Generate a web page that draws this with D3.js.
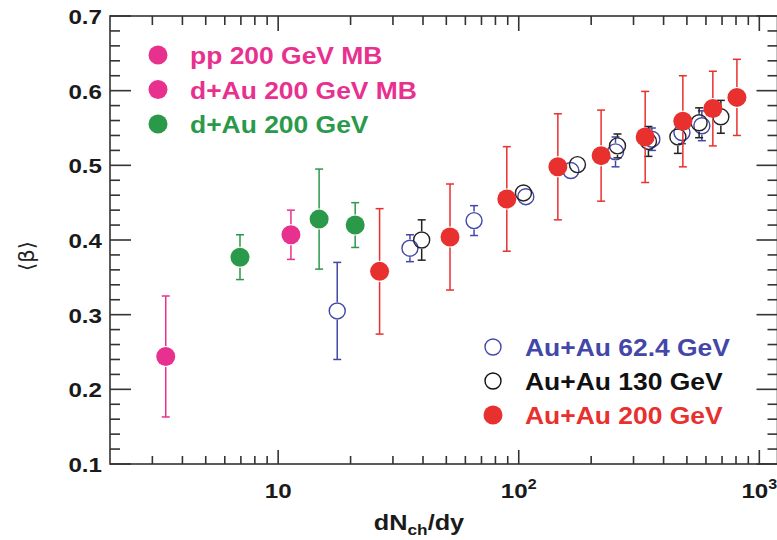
<!DOCTYPE html>
<html>
<head>
<meta charset="utf-8">
<script src="https://cdn.jsdelivr.net/npm/d3@7/dist/d3.min.js"></script>
<style>
  html, body { margin: 0; padding: 0; background: #fff; }
  svg { display: block; }
  text { font-family: "Liberation Sans", Arial, Helvetica, sans-serif; }
</style>
</head>
<body>
<div id="chart"></div>
<script>
// dN_ch/dy vs <beta>
const ppX = [3.41];
const ppY = [0.244];
const ppErr = [0.081];

const dAuMBX = [11.3];
const dAuMBY = [0.407];
const dAuMBErr = [0.033];

const dAuX = [6.94, 14.8, 20.9];
const dAuY = [0.377, 0.428, 0.420];
const dAuErr = [0.030, 0.067, 0.030];

const au62X = [17.6, 35.3, 65.2, 107, 164.7, 252.5, 357.6, 476.8, 577];
const au62Y = [0.305, 0.389, 0.426, 0.458, 0.493, 0.518, 0.535, 0.544, 0.553];
const au62Err = [0.065, 0.018, 0.020, 0.012, 0.012, 0.020, 0.015, 0.015, 0.020];

const au130X = [39.5, 104.6, 175.4, 257.3, 346, 458.6, 562, 692];
const au130Y = [0.400, 0.463, 0.501, 0.526, 0.532, 0.538, 0.557, 0.565];
const au130Err = [0.027, 0.012, 0.012, 0.016, 0.020, 0.022, 0.020, 0.022];

const au200X = [26.4, 51.8, 89.2, 145.4, 220, 335.4, 481, 641, 807];
const au200Y = [0.358, 0.404, 0.455, 0.498, 0.513, 0.538, 0.559, 0.576, 0.591];
const au200Err = [0.084, 0.071, 0.070, 0.071, 0.061, 0.061, 0.061, 0.050, 0.051];

const yTicks = [0.1, 0.2, 0.3, 0.4, 0.5, 0.6, 0.7];
const xTickLabels = [['10', ''], ['10', '2'], ['10', '3']];

const width = 777, height = 540;
const frame = { left: 110, top: 16, right: 777.5, bottom: 464 };
const stretch = 1.15; // original figure is a bit wide

const svg = d3.select('#chart').append('svg')
  .attr('width', width)
  .attr('height', height);

const x = d3.scaleLog().domain([2, 1190]).range([frame.left, frame.right]);
const y = d3.scaleLinear().domain([0.1, 0.7]).range([frame.bottom, frame.top]);

const axisColor = '#333';

// Put stretched text at (px, py)
function stretchedText(g, px, py) {
  return g.append('text')
    .attr('transform', `translate(${px},${py}) scale(${stretch},1)`);
}

// frame
svg.append('rect')
  .attr('x', frame.left)
  .attr('y', frame.top)
  .attr('width', frame.right - frame.left)
  .attr('height', frame.bottom - frame.top)
  .attr('fill', 'none')
  .attr('stroke', axisColor)
  .attr('stroke-width', 1.6);

// x ticks (log, major at decades)
const xMinor = [];
[1, 10, 100].forEach(dec => {
  for (let k = 2; k <= 9; k++) {
    const v = dec * k;
    if (v > 2 && v < 1190) xMinor.push(v);
  }
});
const xMajor = [10, 100, 1000];

const ticks = svg.append('g').attr('stroke', axisColor).attr('stroke-width', 1.6);

xMinor.forEach(v => {
  ticks.append('line').attr('x1', x(v)).attr('x2', x(v)).attr('y1', frame.bottom).attr('y2', frame.bottom - 8);
  ticks.append('line').attr('x1', x(v)).attr('x2', x(v)).attr('y1', frame.top).attr('y2', frame.top + 9);
});
xMajor.forEach(v => {
  ticks.append('line').attr('x1', x(v)).attr('x2', x(v)).attr('y1', frame.bottom).attr('y2', frame.bottom - 14);
  ticks.append('line').attr('x1', x(v)).attr('x2', x(v)).attr('y1', frame.top).attr('y2', frame.top + 15);
});

// y ticks, minor every 0.02
const yMinor = d3.range(0.12, 0.7, 0.02).filter(v => Math.abs(v * 10 - Math.round(v * 10)) > 0.01);
yMinor.forEach(v => {
  ticks.append('line').attr('x1', frame.left).attr('x2', frame.left + 10).attr('y1', y(v)).attr('y2', y(v));
  ticks.append('line').attr('x1', frame.right).attr('x2', frame.right - 10).attr('y1', y(v)).attr('y2', y(v));
});
yTicks.forEach(v => {
  ticks.append('line').attr('x1', frame.left).attr('x2', frame.left + 21).attr('y1', y(v)).attr('y2', y(v));
  ticks.append('line').attr('x1', frame.right).attr('x2', frame.right - 21).attr('y1', y(v)).attr('y2', y(v));
});

// tick labels
const labels = svg.append('g')
  .attr('fill', '#1a1a1a')
  .style('font-weight', 'bold')
  .style('font-size', '21px');

yTicks.forEach(v => {
  stretchedText(labels, 102, y(v) + 8)
    .attr('text-anchor', 'end')
    .text(v.toFixed(1));
});

xMajor.forEach((v, i) => {
  const t = stretchedText(labels, x(v), 498).attr('text-anchor', 'middle');
  t.append('tspan').text(xTickLabels[i][0]);
  if (xTickLabels[i][1]) {
    t.append('tspan')
      .attr('dy', -9)
      .style('font-size', '14px')
      .text(xTickLabels[i][1]);
  }
});

// axis titles
const xTitle = stretchedText(svg, 419, 530)
  .attr('text-anchor', 'middle')
  .attr('fill', '#1a1a1a')
  .style('font-weight', 'bold')
  .style('font-size', '22px');
xTitle.append('tspan').text('dN');
xTitle.append('tspan').attr('dy', 5).style('font-size', '15px').text('ch');
xTitle.append('tspan').attr('dy', -5).text('/dy');

svg.append('text')
  .attr('transform', 'translate(34,256) rotate(-90)')
  .attr('text-anchor', 'middle')
  .attr('fill', '#222')
  .style('font-family', '"DejaVu Sans", sans-serif')
  .style('font-size', '21px')
  .text('⟨β⟩');

// series
const pink = '#e8318f';
const green = '#2a9a4a';
const blue = '#4347a8';
const black = '#222';
const red = '#e8302e';

const series = [
  { xs: au62X, ys: au62Y, errs: au62Err, color: blue, open: true },
  { xs: au130X, ys: au130Y, errs: au130Err, color: black, open: true },
  { xs: ppX, ys: ppY, errs: ppErr, color: pink, open: false },
  { xs: dAuMBX, ys: dAuMBY, errs: dAuMBErr, color: pink, open: false },
  { xs: dAuX, ys: dAuY, errs: dAuErr, color: green, open: false },
  { xs: au200X, ys: au200Y, errs: au200Err, color: red, open: false }
];

const rOpen = 8, rFilled = 9.5, cap = 4;

series.forEach(s => {
  const pts = s.xs.map((v, i) => ({ x: v, y: s.ys[i], e: s.errs[i] }));
  const r = s.open ? rOpen : rFilled;
  const g = svg.append('g');

  // error bars, kept outside the marker
  pts.forEach(d => {
    const cx = x(d.x), cy = y(d.y);
    const yTop = y(d.y + d.e), yBot = y(d.y - d.e);
    const eg = g.append('g').attr('stroke', s.color).attr('stroke-width', 1.5);
    if (cy - r - 1 > yTop) {
      eg.append('line').attr('x1', cx).attr('x2', cx).attr('y1', yTop).attr('y2', cy - r - 1);
      eg.append('line').attr('x1', cx - cap).attr('x2', cx + cap).attr('y1', yTop).attr('y2', yTop);
    }
    if (yBot > cy + r + 1) {
      eg.append('line').attr('x1', cx).attr('x2', cx).attr('y1', cy + r + 1).attr('y2', yBot);
      eg.append('line').attr('x1', cx - cap).attr('x2', cx + cap).attr('y1', yBot).attr('y2', yBot);
    }
  });

  g.selectAll('circle.pt')
    .data(pts)
    .enter()
    .append('circle')
    .attr('class', 'pt')
    .attr('cx', d => x(d.x))
    .attr('cy', d => y(d.y))
    .attr('r', s.open ? rOpen : rFilled)
    .attr('fill', s.open ? 'none' : s.color)
    .attr('stroke', s.color)
    .attr('stroke-width', s.open ? 1.4 : 0);
});

// legends
const legendTop = [
  { label: 'pp 200 GeV MB', color: pink, open: false },
  { label: 'd+Au 200 GeV MB', color: pink, open: false },
  { label: 'd+Au 200 GeV', color: green, open: false }
];
const legendBottom = [
  { label: 'Au+Au 62.4 GeV', color: blue, open: true },
  { label: 'Au+Au 130 GeV', color: '#111', open: true },
  { label: 'Au+Au 200 GeV', color: red, open: false }
];

function drawLegend(items, mx, tx, y0, dy) {
  const g = svg.append('g')
    .style('font-weight', 'bold')
    .style('font-size', '23px');
  items.forEach((d, i) => {
    const cy = y0 + i * dy;
    g.append('circle')
      .attr('cx', mx)
      .attr('cy', cy)
      .attr('r', d.open ? rOpen : rFilled)
      .attr('fill', d.open ? 'none' : d.color)
      .attr('stroke', d.color)
      .attr('stroke-width', d.open ? 1.4 : 0);
    stretchedText(g, tx, cy + 9)
      .attr('fill', d.color)
      .text(d.label);
  });
}

drawLegend(legendTop, 158, 190, 55, 34.5);
drawLegend(legendBottom, 493, 525, 347, 34);
</script>
</body>
</html>
